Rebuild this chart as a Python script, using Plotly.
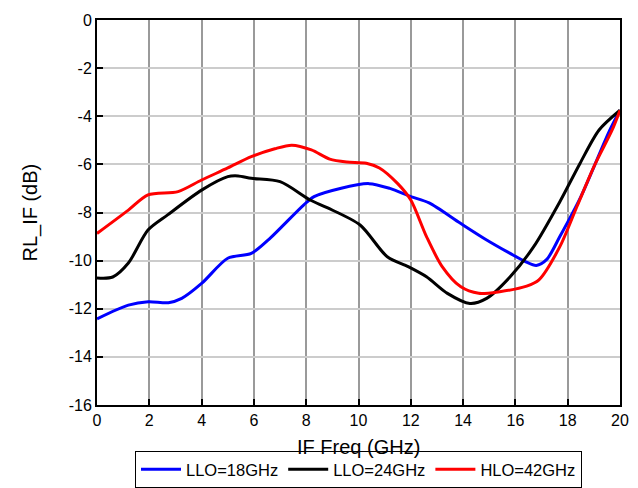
import plotly.graph_objects as go

# Data
freq_llo18 = [0, 1.2, 1.96, 2.73, 3.24, 4.0, 5.0, 5.9, 6.55, 7.9, 8.3, 9.3, 10.4, 11.2, 12.0, 12.7, 13.9, 14.9, 15.8, 16.4, 16.8, 17.2, 17.7, 18.5, 19.6, 20]
rl_llo18 = [-12.42, -11.85, -11.71, -11.75, -11.57, -10.95, -9.9, -9.7, -9.14, -7.69, -7.34, -7.0, -6.8, -7.0, -7.34, -7.6, -8.45, -9.14, -9.7, -10.05, -10.2, -9.95, -9.0, -7.35, -4.6, -3.75]

freq_llo24 = [0, 0.6, 1.2, 1.95, 2.7, 4.0, 5.0, 5.4, 5.9, 7.0, 8.15, 8.8, 10.06, 11.1, 11.9, 12.6, 13.4, 14.26, 14.9, 15.8, 16.7, 17.7, 18.47, 19.2, 20]
rl_llo24 = [-10.72, -10.68, -10.1, -8.73, -8.1, -7.07, -6.51, -6.48, -6.58, -6.72, -7.48, -7.8, -8.52, -9.84, -10.25, -10.67, -11.36, -11.78, -11.57, -10.67, -9.42, -7.55, -5.96, -4.57, -3.75]

freq_hlo42 = [0, 1.2, 1.95, 3.1, 4.0, 5.0, 5.9, 6.8, 7.45, 8.2, 8.9, 9.55, 10.3, 10.8, 11.5, 12.0, 12.6, 13.2, 13.9, 14.6, 15.4, 16.43, 16.9, 17.7, 18.35, 19.0, 19.7, 20]
rl_hlo42 = [-8.87, -7.9, -7.27, -7.13, -6.65, -6.15, -5.68, -5.35, -5.2, -5.4, -5.78, -5.9, -5.95, -6.15, -6.8, -7.48, -9.0, -10.25, -11.08, -11.36, -11.29, -11.06, -10.8, -9.42, -7.76, -6.1, -4.57, -3.75]

series_names = ["LLO=18GHz", "LLO=24GHz", "HLO=42GHz"]
series_colors = ["#0000ff", "#000000", "#ff0000"]

x_title = "IF Freq (GHz)"
y_title = "RL_IF (dB)"
x_tick_vals = [0, 2, 4, 6, 8, 10, 12, 14, 16, 18, 20]
x_tick_labels = ["0", "2", "4", "6", "8", "10", "12", "14", "16", "18", "20"]
y_tick_vals = [0, -2, -4, -6, -8, -10, -12, -14, -16]
y_tick_labels = ["0", "-2", "-4", "-6", "-8", "-10", "-12", "-14", "-16"]

fig = go.Figure()
for xs, ys, name, color in zip(
    [freq_llo18, freq_llo24, freq_hlo42],
    [rl_llo18, rl_llo24, rl_hlo42],
    series_names, series_colors,
):
    fig.add_trace(go.Scatter(
        x=xs, y=ys, name=name, mode="lines",
        line=dict(color=color, width=3, shape="spline", smoothing=0.8),
    ))

font_family = "Liberation Sans, Arial, sans-serif"
fig.update_layout(
    width=638, height=488,
    margin=dict(l=97, r=18, t=20, b=83),
    paper_bgcolor="white", plot_bgcolor="white",
    font=dict(family=font_family, size=16, color="black"),
    showlegend=True,
    legend=dict(
        orientation="h", x=0.5, xanchor="center",
        yref="container", y=0.0, yanchor="bottom",
        bordercolor="black", borderwidth=1, font=dict(size=16.5),
        itemwidth=40, tracegroupgap=0,
    ),
    annotations=[
        dict(text=x_title, xref="paper", yref="paper", x=0.5, y=-0.109,
             xanchor="center", yanchor="middle", showarrow=False,
             font=dict(size=20)),
        dict(text=y_title, xref="paper", yref="paper", x=-0.128, y=0.5,
             xanchor="center", yanchor="middle", showarrow=False,
             textangle=-90, font=dict(size=20)),
    ],
)
fig.update_xaxes(
    range=[0, 20], tickvals=x_tick_vals, ticktext=x_tick_labels,
    showgrid=True, gridcolor="#9a9a9a", gridwidth=1.5,
    showline=True, linecolor="black", linewidth=2, mirror=True,
    ticks="inside", ticklen=6, tickcolor="black", tickwidth=1.5,
    zeroline=False, automargin=False,
    tickfont=dict(size=16),
)
fig.update_yaxes(
    range=[-16, 0], tickvals=y_tick_vals, ticktext=y_tick_labels,
    showgrid=True, gridcolor="#cccccc", gridwidth=1.5,
    showline=True, linecolor="black", linewidth=2, mirror=True,
    ticks="inside", ticklen=6, tickcolor="black", tickwidth=1.5,
    zeroline=False, automargin=False,
    tickfont=dict(size=16),
)

fig.write_html("out.html")
